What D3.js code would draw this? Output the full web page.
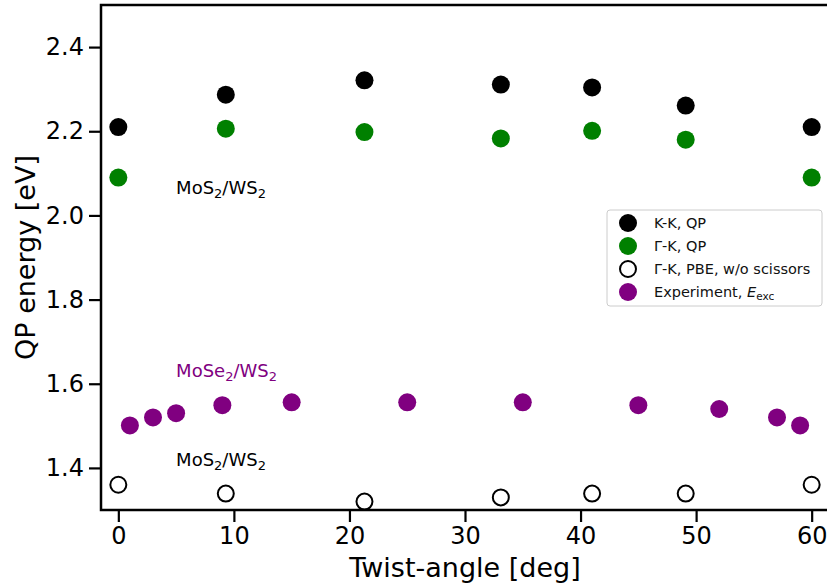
<!DOCTYPE html>
<html><head><meta charset="utf-8">
<script src="https://cdn.jsdelivr.net/npm/d3@7"></script>
<style>body{margin:0;background:#fff}svg{display:block}text{font-family:"DejaVu Sans",sans-serif}</style>
</head><body>
<svg id="c" width="827" height="586"></svg>
<script>
const angles = [0, 9.3, 21.3, 33.1, 41.0, 49.1, 60];
const kkQP = [2.21, 2.287, 2.321, 2.311, 2.304, 2.261, 2.21];
const gkQP = [2.09, 2.206, 2.198, 2.183, 2.201, 2.180, 2.09];
const gkPBE = [1.36, 1.339, 1.320, 1.330, 1.339, 1.339, 1.36];
const expAngles = [1, 3, 5, 9, 15, 25, 35, 45, 52, 57, 59];
const expEexc = [1.501, 1.520, 1.530, 1.549, 1.556, 1.556, 1.556, 1.549, 1.540, 1.520, 1.501];
const xTicks = [0, 10, 20, 30, 40, 50, 60];
const yTicks = [1.4, 1.6, 1.8, 2.0, 2.2, 2.4];

const svg = d3.select("#c");
const L = 101, R = 829, T = 5, B = 510;
const x = d3.scaleLinear().domain([-1.5, 61.5]).range([L, R]);
const y = d3.scaleLinear().domain([1.3, 2.5]).range([B, T]);

const xa = svg.append("g").attr("transform", `translate(0,${B})`)
  .call(d3.axisBottom(x).tickValues(xTicks).tickFormat(d3.format("d")).tickSize(12).tickPadding(5));
const ya = svg.append("g").attr("transform", `translate(${L},0)`)
  .call(d3.axisLeft(y).tickValues(yTicks).tickFormat(d3.format(".1f")).tickSize(12).tickPadding(5));
[xa, ya].forEach(a => {
  a.select(".domain").remove();
  a.selectAll("line").attr("stroke", "#000").attr("stroke-width", 2.2);
  a.selectAll("text").attr("font-size", 24).attr("fill", "#000").attr("font-family", "DejaVu Sans");
});
svg.append("rect").attr("x", L).attr("y", T).attr("width", R - L).attr("height", B - T)
  .attr("fill", "none").attr("stroke", "#000").attr("stroke-width", 2.5);

svg.append("text").attr("x", (L + R) / 2).attr("y", 577).attr("text-anchor", "middle")
  .attr("font-size", 27).text("Twist-angle [deg]");
svg.append("text").attr("transform", `translate(35,${(T + B) / 2}) rotate(-90)`).attr("text-anchor", "middle")
  .attr("font-size", 27).text("QP energy [eV]");

const g = svg.append("g");
g.selectAll(".kk").data(angles).join("circle").attr("cx", d => x(d)).attr("cy", (d, i) => y(kkQP[i])).attr("r", 9).attr("fill", "#000");
g.selectAll(".gk").data(angles).join("circle").attr("cx", d => x(d)).attr("cy", (d, i) => y(gkQP[i])).attr("r", 9).attr("fill", "#008000");
g.selectAll(".pbe").data(angles).join("circle").attr("cx", d => x(d)).attr("cy", (d, i) => y(gkPBE[i])).attr("r", 8).attr("fill", "none").attr("stroke", "#000").attr("stroke-width", 2);
g.selectAll(".ex").data(expAngles).join("circle").attr("cx", d => x(d)).attr("cy", (d, i) => y(expEexc[i])).attr("r", 9).attr("fill", "#800080");

function label(xv, yv, parts, color) {
  const t = svg.append("text").attr("x", x(xv)).attr("y", y(yv)).attr("font-size", 18).attr("fill", color);
  parts.forEach(p => {
    const s = t.append("tspan").text(p[0]);
    if (p[1]) s.attr("font-size", 13).attr("dy", 4);
    else if (p[2]) s.attr("dy", -4);
  });
}
label(5, 2.05, [["MoS"], ["2", 1], ["/WS", 0, 1], ["2", 1]], "#000");
label(5, 1.617, [["MoSe"], ["2", 1], ["/WS", 0, 1], ["2", 1]], "#800080");
label(5, 1.405, [["MoS"], ["2", 1], ["/WS", 0, 1], ["2", 1]], "#000");

const lg = svg.append("g");
lg.append("rect").attr("x", 607).attr("y", 210).attr("width", 215).attr("height", 96).attr("rx", 3)
  .attr("fill", "#fff").attr("fill-opacity", 0.8).attr("stroke", "#ccc").attr("stroke-width", 1);
const items = [
  {fill: "#000", stroke: "none", text: "K-K, QP"},
  {fill: "#008000", stroke: "none", text: "Γ-K, QP"},
  {fill: "none", stroke: "#000", text: "Γ-K, PBE, w/o scissors"},
  {fill: "#800080", stroke: "none", text: "Experiment, "}
];
items.forEach((it, i) => {
  const cy = 223 + i * 23;
  lg.append("circle").attr("cx", 628).attr("cy", cy).attr("r", it.stroke === "none" ? 9 : 8)
    .attr("fill", it.fill).attr("stroke", it.stroke).attr("stroke-width", 2);
  const t = lg.append("text").attr("x", 654).attr("y", cy + 5).attr("font-size", 14.5).attr("fill", "#111").text(it.text);
  if (i === 3) {
    t.append("tspan").attr("font-style", "italic").text("E");
    t.append("tspan").attr("font-size", 10.5).attr("dy", 3).text("exc");
  }
});
</script>
</body></html>
